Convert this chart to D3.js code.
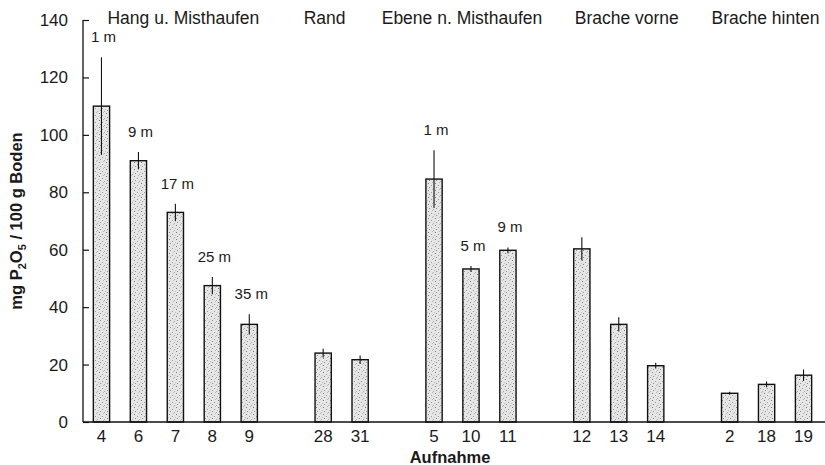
<!DOCTYPE html>
<html>
<head>
<meta charset="utf-8">
<script src="https://cdn.jsdelivr.net/npm/d3@7"></script>
<style>
  body { margin: 0; background: #fff; }
  text { font-family: "Liberation Sans", Arial, sans-serif; fill: #1a1a1a; }
</style>
</head>
<body>
<svg id="chart" width="825" height="465"></svg>
<script>
// group headings along the top
const groups = ["Hang u. Misthaufen", "Rand", "Ebene n. Misthaufen", "Brache vorne", "Brache hinten"];
// Aufnahme number for each bar, and the group it belongs to
const aufnahme = ["4", "6", "7", "8", "9", "28", "31", "5", "10", "11", "12", "13", "14", "2", "18", "19"];
const groupOf = [0, 0, 0, 0, 0, 1, 1, 2, 2, 2, 3, 3, 3, 4, 4, 4];
// mg P2O5 / 100 g Boden
const values = [110, 91, 73, 47.5, 34, 24, 21.7, 84.6, 53.3, 59.8, 60.3, 34, 19.6, 10, 13.1, 16.3];
const errors = [17, 3, 3, 3, 3.5, 1.5, 1.5, 10, 1, 1, 4, 2.5, 1, 0.5, 1, 2];
// distance from the dung heap
const distLabels = ["1 m", "9 m", "17 m", "25 m", "35 m", "", "", "1 m", "5 m", "9 m", "", "", "", "", "", ""];
const yTicks = [0, 20, 40, 60, 80, 100, 120, 140];

// layout
const mLeft = 83, mRight = 822, mTop = 20, mBottom = 422;
const groupLabelDx = [8, -17, -9, 8, -1];

const svg = d3.select("#chart");

// stipple texture for the bars
const defs = svg.append("defs");
const pat = defs.append("pattern")
  .attr("id", "stip").attr("patternUnits", "userSpaceOnUse")
  .attr("width", 7).attr("height", 7);
pat.append("rect").attr("width", 7).attr("height", 7).attr("fill", "#e6e6e6");
[[1, 1, "#7a7a7a"], [4, 3, "#999"], [2, 5, "#8c8c8c"], [6, 6, "#aaa"], [5, 0, "#b8b8b8"], [0, 4, "#c0c0c0"]].forEach(function (p) {
  pat.append("rect").attr("x", p[0]).attr("y", p[1]).attr("width", 1).attr("height", 1).attr("fill", p[2]);
});

// slots: bars of each group, then one empty slot between groups
let slots = [];
groups.forEach(function (g, gi) {
  aufnahme.forEach(function (a, i) { if (groupOf[i] === gi) slots.push("b" + i); });
  if (gi < groups.length - 1) slots.push("gap" + gi);
});

const x = d3.scaleBand().domain(slots).range([mLeft, mRight]).paddingInner(0.56).paddingOuter(0.28);
const y = d3.scaleLinear().domain([0, 140]).range([mBottom, mTop]);

const bars = aufnahme.map(function (a, i) {
  return { key: "b" + i, label: a, value: values[i], err: errors[i], dist: distLabels[i], group: groupOf[i] };
});

// bars
svg.append("g").selectAll("rect").data(bars).join("rect")
  .attr("x", d => x(d.key))
  .attr("y", d => y(d.value))
  .attr("width", x.bandwidth())
  .attr("height", d => y(0) - y(d.value))
  .attr("fill", "url(#stip)")
  .attr("stroke", "#111")
  .attr("stroke-width", 1.4);

// error bars
svg.append("g").selectAll("line").data(bars).join("line")
  .attr("x1", d => x(d.key) + x.bandwidth() / 2)
  .attr("x2", d => x(d.key) + x.bandwidth() / 2)
  .attr("y1", d => y(d.value - d.err))
  .attr("y2", d => y(d.value + d.err))
  .attr("stroke", "#111")
  .attr("stroke-width", 1.1);

// distance labels
svg.append("g").selectAll("text").data(bars.filter(d => d.dist)).join("text")
  .attr("x", d => x(d.key) + x.bandwidth() / 2 + 2)
  .attr("y", d => y(d.value + d.err) - 15)
  .attr("text-anchor", "middle")
  .attr("font-size", 15)
  .text(d => d.dist);

// y axis, ticks pointing inward
const yAxis = d3.axisLeft(y).tickValues(yTicks).tickSize(-6).tickPadding(15);
const gy = svg.append("g").attr("transform", "translate(" + mLeft + ",0)").call(yAxis);
gy.select(".domain").attr("stroke", "#111").attr("stroke-width", 1.3).attr("d", "M0," + y(0) + "V" + y(140));
gy.selectAll(".tick line").attr("stroke", "#111").attr("stroke-width", 1.2);
gy.selectAll(".tick text").attr("font-size", 17).attr("font-family", "Liberation Sans, Arial, sans-serif").attr("fill", "#1a1a1a");

// x baseline
svg.append("line")
  .attr("x1", mLeft).attr("x2", 825).attr("y1", y(0)).attr("y2", y(0))
  .attr("stroke", "#111").attr("stroke-width", 1.4);

// x tick labels (Aufnahme)
svg.append("g").selectAll("text").data(bars).join("text")
  .attr("x", d => x(d.key) + x.bandwidth() / 2)
  .attr("y", mBottom + 20)
  .attr("text-anchor", "middle")
  .attr("font-size", 17)
  .text(d => d.label);

// group headings
groups.forEach(function (g, gi) {
  const members = bars.filter(d => d.group === gi);
  const x0 = x(members[0].key), x1 = x(members[members.length - 1].key) + x.bandwidth();
  svg.append("text")
    .attr("x", (x0 + x1) / 2 + groupLabelDx[gi])
    .attr("y", 24)
    .attr("text-anchor", "middle")
    .attr("font-size", 17.5)
    .text(g);
});

// axis titles
svg.append("text")
  .attr("x", 450).attr("y", 463)
  .attr("text-anchor", "middle")
  .attr("font-size", 16.5).attr("font-weight", "bold")
  .text("Aufnahme");

const yt = svg.append("text")
  .attr("transform", "translate(22," + 221 + ") rotate(-90)")
  .attr("text-anchor", "middle")
  .attr("font-size", 16.5).attr("font-weight", "bold");
yt.append("tspan").text("mg P");
yt.append("tspan").attr("font-size", 11).attr("dy", 4).text("2");
yt.append("tspan").attr("dy", -4).text("O");
yt.append("tspan").attr("font-size", 11).attr("dy", 4).text("5");
yt.append("tspan").attr("dy", -4).text(" / 100 g Boden");
</script>
</body>
</html>
